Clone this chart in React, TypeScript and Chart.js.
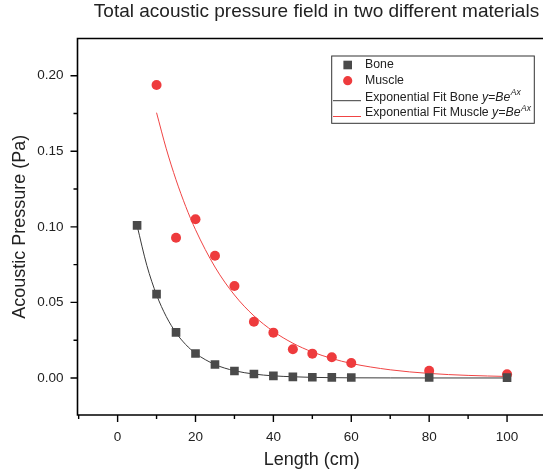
import { useEffect, useRef } from 'react';
import { Chart, registerables } from 'chart.js';
Chart.register(...registerables);

const chartTitle = 'Total acoustic pressure field in two different materials';
const xTitle = 'Length (cm)';
const yTitle = 'Acoustic Pressure (Pa)';

const boneX = [5, 10, 15, 20, 25, 30, 35, 40, 45, 50, 55, 60, 80, 100];
const boneY = [0.101, 0.0555, 0.0302, 0.0162, 0.0089, 0.0046, 0.0026, 0.0014, 0.0007, 0.0005, 0.0004, 0.0003, 0.0003, 0.0002];
const muscleX = [10, 15, 20, 25, 30, 35, 40, 45, 50, 55, 60, 80, 100];
const muscleY = [0.1938, 0.0928, 0.105, 0.0809, 0.0608, 0.0372, 0.03, 0.019, 0.0161, 0.0137, 0.0099, 0.0048, 0.0024];

const boneFitX = [5, 7.5, 10, 12.5, 15, 17.5, 20, 25, 30, 35, 40, 45, 50, 60, 70, 80, 100];
const boneFitY = [0.1008, 0.0745, 0.055, 0.0406, 0.0299, 0.0221, 0.0163, 0.0089, 0.0048, 0.0026, 0.0014, 0.0008, 0.0004, 0.0001, 0.00004, 0.00001, 0];
const muscleFitX = [10, 12.5, 15, 17.5, 20, 25, 30, 35, 40, 45, 50, 55, 60, 70, 80, 90, 100];
const muscleFitY = [0.1755, 0.1516, 0.1311, 0.1134, 0.0981, 0.0734, 0.0549, 0.0411, 0.0308, 0.023, 0.0172, 0.0129, 0.0096, 0.0054, 0.003, 0.0017, 0.001];

const xMajorTicks = [0, 20, 40, 60, 80, 100];
const xMinorTicks = [-10, 10, 30, 50, 70, 90, 110];
const yMajorTicks = [0, 0.05, 0.1, 0.15, 0.2];
const yMinorTicks = [0.025, 0.075, 0.125, 0.175];

const legendLabels = ['Bone', 'Muscle', 'Exponential Fit Bone ', 'Exponential Fit Muscle '];
const fitFormula = 'y=Be';
const fitExponent = 'Ax';

const FONT = '"Liberation Sans", Arial, sans-serif';
const BONE = '#4a4a4a';
const MUSCLE = '#ee3b3d';
const BONE_LINE = '#3a3a3a';
const MUSCLE_LINE = '#f04444';

const toPts = (xs: number[], ys: number[]) => xs.map((x, i) => ({ x, y: ys[i] }));

const framePlugin = {
  id: 'framePlugin',
  afterDraw(chart: any) {
    const { ctx, chartArea: a, scales } = chart;
    const xs = scales.x;
    const ys = scales.y;
    ctx.save();
    // title
    ctx.fillStyle = '#222';
    ctx.font = `19px ${FONT}`;
    ctx.textAlign = 'center';
    ctx.textBaseline = 'middle';
    ctx.fillText(chartTitle, 316.5, 11.7);

    ctx.strokeStyle = '#000';
    ctx.lineWidth = 1.6;
    ctx.beginPath();
    ctx.rect(a.left, a.top, a.right - a.left, a.bottom - a.top);
    ctx.stroke();
    ctx.lineWidth = 1.4;
    ctx.beginPath();
    const tick = (vals: number[], len: number, horiz: boolean) => {
      for (const v of vals) {
        if (horiz) {
          const p = xs.getPixelForValue(v);
          if (p < a.left - 1 || p > a.right + 1) continue;
          ctx.moveTo(p, a.bottom);
          ctx.lineTo(p, a.bottom + len);
        } else {
          const p = ys.getPixelForValue(v);
          if (p < a.top - 1 || p > a.bottom + 1) continue;
          ctx.moveTo(a.left, p);
          ctx.lineTo(a.left - len, p);
        }
      }
    };
    tick(xMajorTicks, 7, true);
    tick(xMinorTicks, 4, true);
    tick(yMajorTicks, 7, false);
    tick(yMinorTicks, 4, false);
    ctx.stroke();

    // legend
    const bx = 331.7, by = 56, bw = 202.6, bh = 67.3;
    ctx.lineWidth = 1;
    ctx.strokeStyle = '#333';
    ctx.strokeRect(bx, by, bw, bh);
    const rows = [65, 80.7, 97.2, 113];
    const mx = 347.7;
    const tx = 365;
    ctx.fillStyle = BONE;
    ctx.fillRect(mx - 4.3, rows[0] - 4.3, 8.6, 8.6);
    ctx.fillStyle = MUSCLE;
    ctx.beginPath();
    ctx.arc(mx, rows[1], 4.6, 0, Math.PI * 2);
    ctx.fill();
    ctx.lineWidth = 1;
    ctx.strokeStyle = BONE_LINE;
    ctx.beginPath();
    ctx.moveTo(333, rows[2] + 3.5);
    ctx.lineTo(361, rows[2] + 3.5);
    ctx.stroke();
    ctx.strokeStyle = MUSCLE_LINE;
    ctx.beginPath();
    ctx.moveTo(333, rows[3] + 3.5);
    ctx.lineTo(361, rows[3] + 3.5);
    ctx.stroke();

    ctx.fillStyle = '#222';
    ctx.textBaseline = 'middle';
    ctx.textAlign = 'left';
    const normal = `12.3px ${FONT}`;
    const italic = `italic 12.3px ${FONT}`;
    const sup = `italic 8.5px ${FONT}`;
    legendLabels.forEach((label, i) => {
      ctx.font = normal;
      ctx.fillText(label, tx, rows[i]);
      if (i >= 2) {
        let w = ctx.measureText(label).width;
        ctx.font = italic;
        ctx.fillText(fitFormula, tx + w, rows[i]);
        w += ctx.measureText(fitFormula).width + 0.5;
        ctx.font = sup;
        ctx.fillText(fitExponent, tx + w, rows[i] - 4.5);
      }
    });
    ctx.restore();
  },
};

export default function App() {
  const ref = useRef<HTMLCanvasElement | null>(null);
  useEffect(() => {
    if (!ref.current) return;
    const chart = new Chart(ref.current, {
      type: 'scatter',
      data: {
        datasets: [
          {
            label: 'Bone',
            data: toPts(boneX, boneY),
            pointStyle: 'rect',
            pointRadius: 6.1,
            pointBorderWidth: 0,
            backgroundColor: BONE,
            borderColor: BONE,
          },
          {
            label: 'Muscle',
            data: toPts(muscleX, muscleY),
            pointStyle: 'circle',
            pointRadius: 5,
            pointBorderWidth: 0,
            backgroundColor: MUSCLE,
            borderColor: MUSCLE,
          },
          {
            label: 'Exponential Fit Bone',
            data: toPts(boneFitX, boneFitY),
            showLine: true,
            pointRadius: 0,
            borderColor: BONE_LINE,
            borderWidth: 1,
            cubicInterpolationMode: 'monotone',
          },
          {
            label: 'Exponential Fit Muscle',
            data: toPts(muscleFitX, muscleFitY),
            showLine: true,
            pointRadius: 0,
            borderColor: MUSCLE_LINE,
            borderWidth: 1,
            cubicInterpolationMode: 'monotone',
          },
        ],
      } as any,
      options: {
        animation: false,
        responsive: false,
        devicePixelRatio: 1,
        layout: { padding: { left: 0, top: 38.5, right: 86, bottom: 0 } },
        plugins: {
          legend: { display: false },
          tooltip: { enabled: false },
          title: { display: false },
        },
        scales: {
          x: {
            type: 'linear',
            min: -10.3,
            max: 110,
            grid: { display: false, drawTicks: false },
            border: { display: false },
            afterBuildTicks: (s: any) => {
              s.ticks = xMajorTicks.map((v) => ({ value: v }));
            },
            ticks: {
              padding: 14,
              color: '#222',
              font: { family: FONT, size: 13.5 },
              callback: (v: any) => String(v),
            },
            title: {
              display: true,
              text: xTitle,
              color: '#222',
              font: { family: FONT, size: 18 },
              padding: { top: 0, bottom: 2.2 },
            },
            afterFit: (s: any) => {
              s.height = 58;
            },
          },
          y: {
            type: 'linear',
            min: -0.0245,
            max: 0.2246,
            grid: { display: false, drawTicks: false },
            border: { display: false },
            afterBuildTicks: (s: any) => {
              s.ticks = yMajorTicks.map((v) => ({ value: v }));
            },
            ticks: {
              padding: 14,
              color: '#222',
              font: { family: FONT, size: 13.5 },
              callback: (v: any) => Number(v).toFixed(2),
            },
            title: {
              display: true,
              text: yTitle,
              color: '#222',
              font: { family: FONT, size: 18 },
              padding: { top: 9, bottom: 0 },
            },
            afterFit: (s: any) => {
              s.width = 77.5;
            },
          },
        },
      } as any,
      plugins: [framePlugin],
    });
    return () => chart.destroy();
  }, []);
  return (
    <div style={{ position: 'absolute', left: 0, top: 0, width: 543, height: 473, overflow: 'hidden', background: '#fff' }}>
      <canvas ref={ref} width={632} height={473} style={{ width: 632, height: 473, display: 'block' }} />
    </div>
  );
}
